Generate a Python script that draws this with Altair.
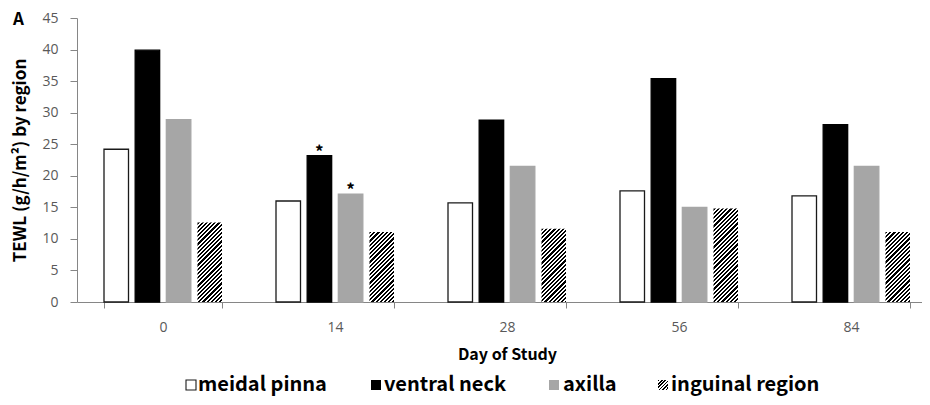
import altair as alt
import pandas as pd

# ---------------- data ----------------
days = ["0", "14", "28", "56", "84"]
regions = ["meidal pinna", "ventral neck", "axilla", "inguinal region"]
meidal_pinna = [24.2, 16.0, 15.7, 17.6, 16.8]
ventral_neck = [39.9, 23.2, 28.8, 35.4, 28.1]
axilla = [28.9, 17.1, 21.5, 15.0, 21.5]
inguinal_region = [12.6, 11.1, 11.6, 14.8, 11.1]
sig_days = ["14", "14"]
sig_regions = ["ventral neck", "axilla"]

series = [meidal_pinna, ventral_neck, axilla, inguinal_region]
rows = []
for reg, vals in zip(regions, series):
    for d, v in zip(days, vals):
        rows.append({"day": d, "region": reg, "value": v})
df = pd.DataFrame(rows)
sig = df.merge(pd.DataFrame({"day": sig_days, "region": sig_regions}))

# ---------------- layout / style ----------------
FONT = "Noto Sans CJK KR"
NUM_FONT = "Open Sans"
PLOT_H = 284
VIEW_W = 837          # visible part of the plot (page is cropped on the right)
X_RANGE = 860         # full extent of the category axis
Y_MAX = 45
P_IN, P_OUT = 0.314, 0.157
O_IN = 0.214
STEP = X_RANGE / len(days)
BAR_W = STEP * (1 - P_IN) / (len(regions) - O_IN) * (1 - O_IN)
PX_PER_UNIT = PLOT_H / Y_MAX


def hatch(w, h, period=4.2, frac=0.52):
    total = w + h
    c = total / (w * w + h * h)
    stops = []
    pos = 0.0
    while pos < total - 1e-9:
        a = pos / total
        b = min((pos + frac * period) / total, 1.0)
        e = min((pos + period) / total, 1.0)
        stops += [(a, "#000000"), (b, "#000000"), (b, "#ffffff"), (e, "#ffffff")]
        pos += period
    return alt.LinearGradient(
        gradient="linear",
        stops=[alt.GradientStop(offset=round(o, 5), color=col) for o, col in stops],
        x1=0, y1=0, x2=round(w * c, 5), y2=round(h * c, 5),
    )


x_enc = alt.X(
    "day:N",
    sort=days,
    scale=alt.Scale(domain=days, range=[0, X_RANGE], paddingInner=P_IN, paddingOuter=P_OUT),
    axis=alt.Axis(
        title="Day of Study",
        labelAngle=0,
        tickBand="extent",
        tickSize=6,
        labelPadding=12,
        titlePadding=12,
        labelFont=NUM_FONT,
        titleFontSize=16,
    ),
)
xo_enc = alt.XOffset(
    "region:N", sort=regions,
    scale=alt.Scale(domain=regions, paddingInner=O_IN, paddingOuter=0),
)
y_enc = alt.Y(
    "value:Q",
    scale=alt.Scale(domain=[0, Y_MAX], nice=False),
    axis=alt.Axis(
        title="TEWL (g/h/m²) by region",
        values=list(range(0, Y_MAX + 1, 5)),
        tickSize=7,
        labelPadding=12,
        titlePadding=12,
        labelFont=NUM_FONT,
        titleFontSize=17,
        grid=False,
    ),
)

main = alt.Chart(df[df.region != "inguinal region"]).mark_bar(strokeWidth=1.3).encode(
    x=x_enc,
    xOffset=xo_enc,
    y=y_enc,
    fill=alt.Fill("region:N", scale=alt.Scale(domain=regions, range=["#ffffff", "#000000", "#a6a6a6", "#ffffff"]), legend=None),
    stroke=alt.Stroke("region:N", scale=alt.Scale(domain=regions, range=["#1a1a1a", "#000000", "#a6a6a6", "#ffffff"]), legend=None),
)

layers = [main]
ing = df[df.region == "inguinal region"]
for d in days:
    sub = ing[ing.day == d]
    h = float(sub.value.iloc[0]) * PX_PER_UNIT
    layers.append(
        alt.Chart(sub).mark_bar(fill=hatch(BAR_W, h), strokeWidth=0).encode(
            x=x_enc, xOffset=xo_enc, y=y_enc
        )
    )

stars = alt.Chart(sig).mark_text(
    text="*", font=FONT, fontSize=17, fontWeight="bold", baseline="alphabetic", dy=2, color="#000000"
).encode(x=x_enc, xOffset=xo_enc, y=y_enc)
layers.append(stars)

panel = alt.Chart(pd.DataFrame({"t": ["A"]})).mark_text(
    font=FONT, fontSize=17, fontWeight="bold", baseline="middle", align="left", color="#000000"
).encode(text="t:N", x=alt.value(-64), y=alt.value(2))
layers.append(panel)

# ---------------- legend ----------------
LEG_SYM_X = [109, 294, 472, 581]
LEG_TXT_X = [121, 307, 486, 594]
LEG_Y = 367
SYM = 10
for i, reg in enumerate(regions):
    ldf = pd.DataFrame({"region": [reg]})
    if reg == "inguinal region":
        sym = alt.Chart(ldf).mark_rect(fill=hatch(SYM, SYM, period=3.4), strokeWidth=0)
    elif reg == "meidal pinna":
        sym = alt.Chart(ldf).mark_rect(fill="#ffffff", stroke="#1a1a1a", strokeWidth=1.1)
    elif reg == "ventral neck":
        sym = alt.Chart(ldf).mark_rect(fill="#000000")
    else:
        sym = alt.Chart(ldf).mark_rect(fill="#a6a6a6")
    layers.append(
        sym.encode(
            x=alt.value(LEG_SYM_X[i]), x2=alt.value(LEG_SYM_X[i] + SYM),
            y=alt.value(LEG_Y - SYM / 2), y2=alt.value(LEG_Y + SYM / 2),
        )
    )
    layers.append(
        alt.Chart(ldf).mark_text(
            font=FONT, fontSize=20, fontWeight="bold", align="left", baseline="middle", color="#000000"
        ).encode(text="region:N", x=alt.value(LEG_TXT_X[i]), y=alt.value(LEG_Y))
    )

chart = alt.layer(*layers).properties(
    width=VIEW_W,
    height=PLOT_H,
    autosize=alt.AutoSizeParams(type="none"),
    padding={"left": 69, "top": 10, "right": 8, "bottom": 94},
).configure_view(stroke=None).configure_axis(
    domainColor="#868686",
    tickColor="#868686",
    labelColor="#595959",
    labelFont=FONT,
    labelFontSize=14,
    titleFont=FONT,
    titleFontSize=15,
    titleFontWeight="bold",
    titleColor="#000000",
)

chart.save("out.html", embed_options={"renderer": "svg", "actions": False})
